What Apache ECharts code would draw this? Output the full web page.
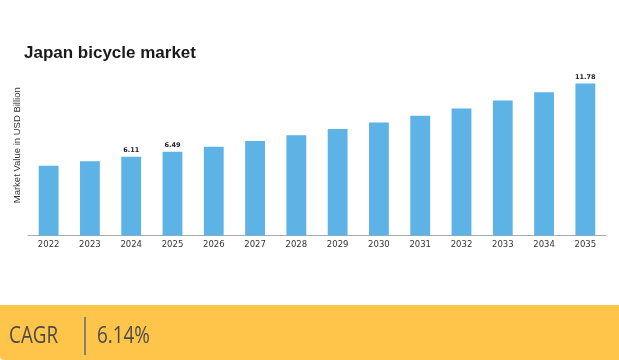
<!DOCTYPE html>
<html><head><meta charset="utf-8">
<script src="https://cdn.jsdelivr.net/npm/echarts@6/dist/echarts.min.js"></script>
<style>html,body{margin:0;padding:0;background:#fff}#c{width:619px;height:360px}</style>
</head><body><div id="c"></div>
<script>
const years = ['2022','2023','2024','2025','2026','2027','2028','2029','2030','2031','2032','2033','2034','2035'];
const values = [5.41, 5.75, 6.11, 6.49, 6.88, 7.33, 7.77, 8.26, 8.77, 9.29, 9.86, 10.48, 11.12, 11.78];
const labelledYears = ['2024','2025','2035'];
const titleText = 'Japan bicycle market';
const yAxisName = 'Market Value in USD Billion';
const cagrLabel = 'CAGR';
const cagrValue = '6.14%';

const chart = echarts.init(document.getElementById('c'), null, {renderer:'canvas'});
chart.setOption({
  animation: false,
  title: {text: titleText, left: 19, top: 40, textStyle: {fontFamily: 'Liberation Sans', fontWeight: 'bold', fontSize: 17, color: '#1a1a1a'}},
  grid: {left: 28, width: 578, top: 55, bottom: 124.5},
  xAxis: {type: 'category', data: years,
    axisLine: {lineStyle: {color: '#aaaaaa', width: 1}},
    axisTick: {show: false},
    axisLabel: {fontFamily: 'DejaVu Sans', fontSize: 8.5, color: '#333', margin: 5}},
  yAxis: {type: 'value', min: 0, max: 14, axisLabel: {show: false}, splitLine: {show: false},
    axisLine: {show: false}, axisTick: {show: false},
    name: yAxisName, nameLocation: 'middle', nameGap: 6, nameRotate: 90,
    nameTextStyle: {fontFamily: 'Liberation Sans', fontSize: 9.5, color: '#333'}},
  series: [{type: 'bar', barWidth: '48%',
    data: values.map((v, i) => ({value: v, label: {show: labelledYears.includes(years[i])}})),
    itemStyle: {color: '#5DB2E6'},
    label: {position: 'top', distance: 3, fontFamily: 'DejaVu Sans', fontWeight: 'bold', fontSize: 6.5, color: '#222'}}],
  graphic: [
    {type: 'rect', shape: {x: 0, y: 305, width: 619, height: 55, r: [0,0,0,4]}, style: {fill: '#FFC54B'}},
    {type: 'line', shape: {x1: 85, y1: 317, x2: 85, y2: 355}, style: {stroke: '#2B5A88', lineWidth: 1.2}},
    {type: 'text', x: 9, y: 336, scaleX: 0.82, style: {text: cagrLabel, font: '23px "Open Sans"', fill: '#4a4a4a', verticalAlign: 'middle'}},
    {type: 'text', x: 97, y: 336, scaleX: 0.82, style: {text: cagrValue, font: '23px "Open Sans"', fill: '#4a4a4a', verticalAlign: 'middle'}}
  ]
});
</script></body></html>
